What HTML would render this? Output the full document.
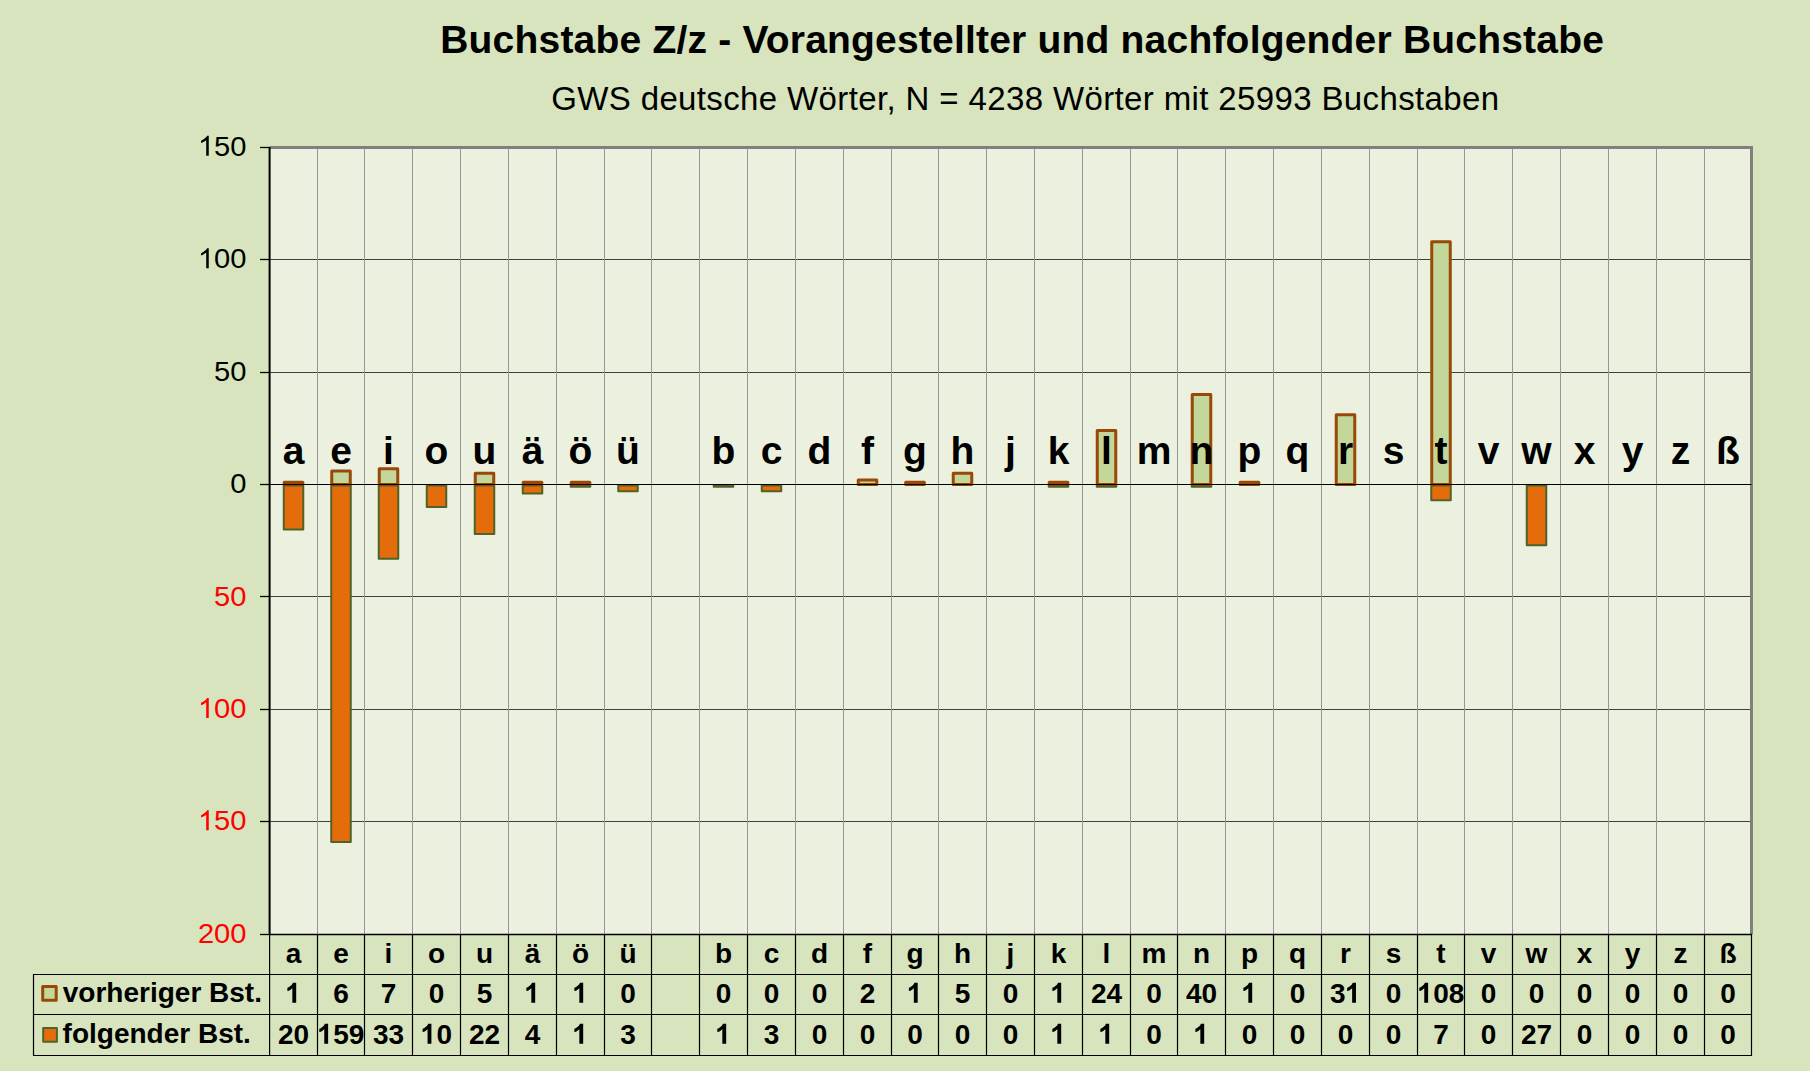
<!DOCTYPE html>
<html><head><meta charset="utf-8"><style>
html,body{margin:0;padding:0;}
body{width:1810px;height:1071px;overflow:hidden;position:relative;background:#D7E4BD;font-family:"Liberation Sans",sans-serif;}
svg text{font-family:"Liberation Sans",sans-serif;}
</style></head><body>
<svg width="1810" height="1071" viewBox="0 0 1810 1071" style="position:absolute;left:0;top:0">
<rect x="269.7" y="147.255" width="1481.8" height="786.905" fill="#EBF1DE"/>
<line x1="269.7" y1="259.5" x2="1751.5" y2="259.5" stroke="#404040" stroke-width="1"/>
<line x1="269.7" y1="372.5" x2="1751.5" y2="372.5" stroke="#404040" stroke-width="1"/>
<line x1="269.7" y1="596.5" x2="1751.5" y2="596.5" stroke="#404040" stroke-width="1"/>
<line x1="269.7" y1="709.5" x2="1751.5" y2="709.5" stroke="#404040" stroke-width="1"/>
<line x1="269.7" y1="821.5" x2="1751.5" y2="821.5" stroke="#404040" stroke-width="1"/>
<line x1="317.5" y1="147.255" x2="317.5" y2="934.16" stroke="#969696" stroke-width="1"/>
<line x1="364.5" y1="147.255" x2="364.5" y2="934.16" stroke="#969696" stroke-width="1"/>
<line x1="412.5" y1="147.255" x2="412.5" y2="934.16" stroke="#969696" stroke-width="1"/>
<line x1="460.5" y1="147.255" x2="460.5" y2="934.16" stroke="#969696" stroke-width="1"/>
<line x1="508.5" y1="147.255" x2="508.5" y2="934.16" stroke="#969696" stroke-width="1"/>
<line x1="556.5" y1="147.255" x2="556.5" y2="934.16" stroke="#969696" stroke-width="1"/>
<line x1="604.5" y1="147.255" x2="604.5" y2="934.16" stroke="#969696" stroke-width="1"/>
<line x1="651.5" y1="147.255" x2="651.5" y2="934.16" stroke="#969696" stroke-width="1"/>
<line x1="699.5" y1="147.255" x2="699.5" y2="934.16" stroke="#969696" stroke-width="1"/>
<line x1="747.5" y1="147.255" x2="747.5" y2="934.16" stroke="#969696" stroke-width="1"/>
<line x1="795.5" y1="147.255" x2="795.5" y2="934.16" stroke="#969696" stroke-width="1"/>
<line x1="843.5" y1="147.255" x2="843.5" y2="934.16" stroke="#969696" stroke-width="1"/>
<line x1="891.5" y1="147.255" x2="891.5" y2="934.16" stroke="#969696" stroke-width="1"/>
<line x1="938.5" y1="147.255" x2="938.5" y2="934.16" stroke="#969696" stroke-width="1"/>
<line x1="986.5" y1="147.255" x2="986.5" y2="934.16" stroke="#969696" stroke-width="1"/>
<line x1="1034.5" y1="147.255" x2="1034.5" y2="934.16" stroke="#969696" stroke-width="1"/>
<line x1="1082.5" y1="147.255" x2="1082.5" y2="934.16" stroke="#969696" stroke-width="1"/>
<line x1="1130.5" y1="147.255" x2="1130.5" y2="934.16" stroke="#969696" stroke-width="1"/>
<line x1="1177.5" y1="147.255" x2="1177.5" y2="934.16" stroke="#969696" stroke-width="1"/>
<line x1="1225.5" y1="147.255" x2="1225.5" y2="934.16" stroke="#969696" stroke-width="1"/>
<line x1="1273.5" y1="147.255" x2="1273.5" y2="934.16" stroke="#969696" stroke-width="1"/>
<line x1="1321.5" y1="147.255" x2="1321.5" y2="934.16" stroke="#969696" stroke-width="1"/>
<line x1="1369.5" y1="147.255" x2="1369.5" y2="934.16" stroke="#969696" stroke-width="1"/>
<line x1="1417.5" y1="147.255" x2="1417.5" y2="934.16" stroke="#969696" stroke-width="1"/>
<line x1="1464.5" y1="147.255" x2="1464.5" y2="934.16" stroke="#969696" stroke-width="1"/>
<line x1="1512.5" y1="147.255" x2="1512.5" y2="934.16" stroke="#969696" stroke-width="1"/>
<line x1="1560.5" y1="147.255" x2="1560.5" y2="934.16" stroke="#969696" stroke-width="1"/>
<line x1="1608.5" y1="147.255" x2="1608.5" y2="934.16" stroke="#969696" stroke-width="1"/>
<line x1="1656.5" y1="147.255" x2="1656.5" y2="934.16" stroke="#969696" stroke-width="1"/>
<line x1="1704.5" y1="147.255" x2="1704.5" y2="934.16" stroke="#969696" stroke-width="1"/>
<line x1="269.7" y1="147.5" x2="1752.5" y2="147.5" stroke="#808080" stroke-width="3" stroke-linejoin="round"/>
<line x1="1751.5" y1="146" x2="1751.5" y2="934.5" stroke="#808080" stroke-width="3" stroke-linejoin="round"/>
<rect x="283.75" y="485.50" width="19.5" height="43.97" fill="#E46C0A" stroke="#4F6228" stroke-width="2" stroke-linejoin="round"/>
<rect x="331.25" y="485.50" width="19.5" height="356.48" fill="#E46C0A" stroke="#4F6228" stroke-width="2" stroke-linejoin="round"/>
<rect x="378.75" y="485.50" width="19.5" height="73.19" fill="#E46C0A" stroke="#4F6228" stroke-width="2" stroke-linejoin="round"/>
<rect x="426.75" y="485.50" width="19.5" height="21.48" fill="#E46C0A" stroke="#4F6228" stroke-width="2" stroke-linejoin="round"/>
<rect x="474.75" y="485.50" width="19.5" height="48.46" fill="#E46C0A" stroke="#4F6228" stroke-width="2" stroke-linejoin="round"/>
<rect x="522.75" y="485.50" width="19.5" height="7.99" fill="#E46C0A" stroke="#4F6228" stroke-width="2" stroke-linejoin="round"/>
<rect x="570.75" y="485.50" width="19.5" height="1.25" fill="#E46C0A" stroke="#4F6228" stroke-width="2" stroke-linejoin="round"/>
<rect x="618.25" y="485.50" width="19.5" height="5.74" fill="#E46C0A" stroke="#4F6228" stroke-width="2" stroke-linejoin="round"/>
<rect x="713.75" y="485.50" width="19.5" height="1.25" fill="#E46C0A" stroke="#4F6228" stroke-width="2" stroke-linejoin="round"/>
<rect x="761.75" y="485.50" width="19.5" height="5.74" fill="#E46C0A" stroke="#4F6228" stroke-width="2" stroke-linejoin="round"/>
<rect x="1048.75" y="485.50" width="19.5" height="1.25" fill="#E46C0A" stroke="#4F6228" stroke-width="2" stroke-linejoin="round"/>
<rect x="1096.75" y="485.50" width="19.5" height="1.25" fill="#E46C0A" stroke="#4F6228" stroke-width="2" stroke-linejoin="round"/>
<rect x="1191.75" y="485.50" width="19.5" height="1.25" fill="#E46C0A" stroke="#4F6228" stroke-width="2" stroke-linejoin="round"/>
<rect x="1431.25" y="485.50" width="19.5" height="14.74" fill="#E46C0A" stroke="#4F6228" stroke-width="2" stroke-linejoin="round"/>
<rect x="1526.75" y="485.50" width="19.5" height="59.70" fill="#E46C0A" stroke="#4F6228" stroke-width="2" stroke-linejoin="round"/>
<rect x="284.25" y="482.25" width="18.5" height="2.25" fill="#C4D79B" stroke="#984807" stroke-width="3" stroke-linejoin="round"/>
<rect x="331.75" y="471.01" width="18.5" height="13.49" fill="#C4D79B" stroke="#984807" stroke-width="3" stroke-linejoin="round"/>
<rect x="379.25" y="468.76" width="18.5" height="15.74" fill="#C4D79B" stroke="#984807" stroke-width="3" stroke-linejoin="round"/>
<rect x="475.25" y="473.26" width="18.5" height="11.24" fill="#C4D79B" stroke="#984807" stroke-width="3" stroke-linejoin="round"/>
<rect x="523.25" y="482.25" width="18.5" height="2.25" fill="#C4D79B" stroke="#984807" stroke-width="3" stroke-linejoin="round"/>
<rect x="571.25" y="482.25" width="18.5" height="2.25" fill="#C4D79B" stroke="#984807" stroke-width="3" stroke-linejoin="round"/>
<rect x="858.25" y="480.00" width="18.5" height="4.50" fill="#C4D79B" stroke="#984807" stroke-width="3" stroke-linejoin="round"/>
<rect x="905.75" y="482.25" width="18.5" height="2.25" fill="#C4D79B" stroke="#984807" stroke-width="3" stroke-linejoin="round"/>
<rect x="953.25" y="473.26" width="18.5" height="11.24" fill="#C4D79B" stroke="#984807" stroke-width="3" stroke-linejoin="round"/>
<rect x="1049.25" y="482.25" width="18.5" height="2.25" fill="#C4D79B" stroke="#984807" stroke-width="3" stroke-linejoin="round"/>
<rect x="1097.25" y="430.54" width="18.5" height="53.96" fill="#C4D79B" stroke="#984807" stroke-width="3" stroke-linejoin="round"/>
<rect x="1192.25" y="394.57" width="18.5" height="89.93" fill="#C4D79B" stroke="#984807" stroke-width="3" stroke-linejoin="round"/>
<rect x="1240.25" y="482.25" width="18.5" height="2.25" fill="#C4D79B" stroke="#984807" stroke-width="3" stroke-linejoin="round"/>
<rect x="1336.25" y="414.80" width="18.5" height="69.70" fill="#C4D79B" stroke="#984807" stroke-width="3" stroke-linejoin="round"/>
<rect x="1431.75" y="241.68" width="18.5" height="242.82" fill="#C4D79B" stroke="#984807" stroke-width="3" stroke-linejoin="round"/>
<line x1="269.7" y1="484.5" x2="1751.5" y2="484.5" stroke="#000" stroke-width="1.2"/>
<line x1="269.6" y1="147" x2="269.6" y2="935" stroke="#000" stroke-width="2" stroke-linejoin="round"/>
<line x1="260" y1="147.5" x2="270" y2="147.5" stroke="#000" stroke-width="1.3"/>
<line x1="260" y1="259.5" x2="270" y2="259.5" stroke="#000" stroke-width="1.3"/>
<line x1="260" y1="372.5" x2="270" y2="372.5" stroke="#000" stroke-width="1.3"/>
<line x1="260" y1="484.5" x2="270" y2="484.5" stroke="#000" stroke-width="1.3"/>
<line x1="260" y1="596.5" x2="270" y2="596.5" stroke="#000" stroke-width="1.3"/>
<line x1="260" y1="709.5" x2="270" y2="709.5" stroke="#000" stroke-width="1.3"/>
<line x1="260" y1="821.5" x2="270" y2="821.5" stroke="#000" stroke-width="1.3"/>
<line x1="260" y1="934.5" x2="270" y2="934.5" stroke="#000" stroke-width="1.3"/>
<g transform="translate(246.5,0) scale(1.04,1) translate(-246.5,0)">
<text x="199.78" y="155.85" font-family="Liberation Sans" font-size="28" fill="#000" style="white-space:pre"> 50</text>
<path d="M763,0 L583,0 L583,1147 Q518,1085 415,1024.5 Q312,964 222,931 L222,1105 Q384,1181 495,1280 Q606,1379 651,1466 L763,1466 Z" transform="translate(199.78,155.85) scale(0.01367,-0.01367)" fill="#000"/>
</g>
<g transform="translate(246.5,0) scale(1.04,1) translate(-246.5,0)">
<text x="199.78" y="268.27" font-family="Liberation Sans" font-size="28" fill="#000" style="white-space:pre"> 00</text>
<path d="M763,0 L583,0 L583,1147 Q518,1085 415,1024.5 Q312,964 222,931 L222,1105 Q384,1181 495,1280 Q606,1379 651,1466 L763,1466 Z" transform="translate(199.78,268.27) scale(0.01367,-0.01367)" fill="#000"/>
</g>
<g transform="translate(246.5,0) scale(1.04,1) translate(-246.5,0)">
<text x="215.36" y="380.69" font-family="Liberation Sans" font-size="28" fill="#000" style="white-space:pre">50</text>
</g>
<g transform="translate(246.5,0) scale(1.04,1) translate(-246.5,0)">
<text x="230.93" y="493.10" font-family="Liberation Sans" font-size="28" fill="#000" style="white-space:pre">0</text>
</g>
<g transform="translate(246.5,0) scale(1.04,1) translate(-246.5,0)">
<text x="215.36" y="605.51" font-family="Liberation Sans" font-size="28" fill="#FF0000" style="white-space:pre">50</text>
</g>
<g transform="translate(246.5,0) scale(1.04,1) translate(-246.5,0)">
<text x="199.78" y="717.93" font-family="Liberation Sans" font-size="28" fill="#FF0000" style="white-space:pre"> 00</text>
<path d="M763,0 L583,0 L583,1147 Q518,1085 415,1024.5 Q312,964 222,931 L222,1105 Q384,1181 495,1280 Q606,1379 651,1466 L763,1466 Z" transform="translate(199.78,717.93) scale(0.01367,-0.01367)" fill="#FF0000"/>
</g>
<g transform="translate(246.5,0) scale(1.04,1) translate(-246.5,0)">
<text x="199.78" y="830.35" font-family="Liberation Sans" font-size="28" fill="#FF0000" style="white-space:pre"> 50</text>
<path d="M763,0 L583,0 L583,1147 Q518,1085 415,1024.5 Q312,964 222,931 L222,1105 Q384,1181 495,1280 Q606,1379 651,1466 L763,1466 Z" transform="translate(199.78,830.35) scale(0.01367,-0.01367)" fill="#FF0000"/>
</g>
<g transform="translate(246.5,0) scale(1.04,1) translate(-246.5,0)">
<text x="199.78" y="942.76" font-family="Liberation Sans" font-size="28" fill="#FF0000" style="white-space:pre">200</text>
</g>
<text x="293.50" y="464" text-anchor="middle" font-family="Liberation Sans" font-weight="bold" font-size="39">a</text>
<text x="341.00" y="464" text-anchor="middle" font-family="Liberation Sans" font-weight="bold" font-size="39">e</text>
<text x="388.50" y="464" text-anchor="middle" font-family="Liberation Sans" font-weight="bold" font-size="39">i</text>
<text x="436.50" y="464" text-anchor="middle" font-family="Liberation Sans" font-weight="bold" font-size="39">o</text>
<text x="484.50" y="464" text-anchor="middle" font-family="Liberation Sans" font-weight="bold" font-size="39">u</text>
<text x="532.50" y="464" text-anchor="middle" font-family="Liberation Sans" font-weight="bold" font-size="39">ä</text>
<text x="580.50" y="464" text-anchor="middle" font-family="Liberation Sans" font-weight="bold" font-size="39">ö</text>
<text x="628.00" y="464" text-anchor="middle" font-family="Liberation Sans" font-weight="bold" font-size="39">ü</text>
<text x="723.50" y="464" text-anchor="middle" font-family="Liberation Sans" font-weight="bold" font-size="39">b</text>
<text x="771.50" y="464" text-anchor="middle" font-family="Liberation Sans" font-weight="bold" font-size="39">c</text>
<text x="819.50" y="464" text-anchor="middle" font-family="Liberation Sans" font-weight="bold" font-size="39">d</text>
<text x="867.50" y="464" text-anchor="middle" font-family="Liberation Sans" font-weight="bold" font-size="39">f</text>
<text x="915.00" y="464" text-anchor="middle" font-family="Liberation Sans" font-weight="bold" font-size="39">g</text>
<text x="962.50" y="464" text-anchor="middle" font-family="Liberation Sans" font-weight="bold" font-size="39">h</text>
<text x="1010.50" y="464" text-anchor="middle" font-family="Liberation Sans" font-weight="bold" font-size="39">j</text>
<text x="1058.50" y="464" text-anchor="middle" font-family="Liberation Sans" font-weight="bold" font-size="39">k</text>
<text x="1106.50" y="464" text-anchor="middle" font-family="Liberation Sans" font-weight="bold" font-size="39">l</text>
<text x="1154.00" y="464" text-anchor="middle" font-family="Liberation Sans" font-weight="bold" font-size="39">m</text>
<text x="1201.50" y="464" text-anchor="middle" font-family="Liberation Sans" font-weight="bold" font-size="39">n</text>
<text x="1249.50" y="464" text-anchor="middle" font-family="Liberation Sans" font-weight="bold" font-size="39">p</text>
<text x="1297.50" y="464" text-anchor="middle" font-family="Liberation Sans" font-weight="bold" font-size="39">q</text>
<text x="1345.50" y="464" text-anchor="middle" font-family="Liberation Sans" font-weight="bold" font-size="39">r</text>
<text x="1393.50" y="464" text-anchor="middle" font-family="Liberation Sans" font-weight="bold" font-size="39">s</text>
<text x="1441.00" y="464" text-anchor="middle" font-family="Liberation Sans" font-weight="bold" font-size="39">t</text>
<text x="1488.50" y="464" text-anchor="middle" font-family="Liberation Sans" font-weight="bold" font-size="39">v</text>
<text x="1536.50" y="464" text-anchor="middle" font-family="Liberation Sans" font-weight="bold" font-size="39">w</text>
<text x="1584.50" y="464" text-anchor="middle" font-family="Liberation Sans" font-weight="bold" font-size="39">x</text>
<text x="1632.50" y="464" text-anchor="middle" font-family="Liberation Sans" font-weight="bold" font-size="39">y</text>
<text x="1680.50" y="464" text-anchor="middle" font-family="Liberation Sans" font-weight="bold" font-size="39">z</text>
<text x="1728.00" y="464" text-anchor="middle" font-family="Liberation Sans" font-weight="bold" font-size="39">ß</text>
<line x1="269.7" y1="934.5" x2="1752" y2="934.5" stroke="#000" stroke-width="1.6"/>
<line x1="33" y1="974.5" x2="1752" y2="974.5" stroke="#000" stroke-width="1.2"/>
<line x1="33" y1="1014.5" x2="1752" y2="1014.5" stroke="#000" stroke-width="1.2"/>
<line x1="33" y1="1055.5" x2="1752" y2="1055.5" stroke="#000" stroke-width="1.2"/>
<line x1="33.5" y1="974" x2="33.5" y2="1055.5" stroke="#000" stroke-width="1.2"/>
<line x1="269.60" y1="934" x2="269.60" y2="1055.5" stroke="#000" stroke-width="1.2"/>
<line x1="317.50" y1="934" x2="317.50" y2="1055.5" stroke="#000" stroke-width="1.2"/>
<line x1="364.50" y1="934" x2="364.50" y2="1055.5" stroke="#000" stroke-width="1.2"/>
<line x1="412.50" y1="934" x2="412.50" y2="1055.5" stroke="#000" stroke-width="1.2"/>
<line x1="460.50" y1="934" x2="460.50" y2="1055.5" stroke="#000" stroke-width="1.2"/>
<line x1="508.50" y1="934" x2="508.50" y2="1055.5" stroke="#000" stroke-width="1.2"/>
<line x1="556.50" y1="934" x2="556.50" y2="1055.5" stroke="#000" stroke-width="1.2"/>
<line x1="604.50" y1="934" x2="604.50" y2="1055.5" stroke="#000" stroke-width="1.2"/>
<line x1="651.50" y1="934" x2="651.50" y2="1055.5" stroke="#000" stroke-width="1.2"/>
<line x1="699.50" y1="934" x2="699.50" y2="1055.5" stroke="#000" stroke-width="1.2"/>
<line x1="747.50" y1="934" x2="747.50" y2="1055.5" stroke="#000" stroke-width="1.2"/>
<line x1="795.50" y1="934" x2="795.50" y2="1055.5" stroke="#000" stroke-width="1.2"/>
<line x1="843.50" y1="934" x2="843.50" y2="1055.5" stroke="#000" stroke-width="1.2"/>
<line x1="891.50" y1="934" x2="891.50" y2="1055.5" stroke="#000" stroke-width="1.2"/>
<line x1="938.50" y1="934" x2="938.50" y2="1055.5" stroke="#000" stroke-width="1.2"/>
<line x1="986.50" y1="934" x2="986.50" y2="1055.5" stroke="#000" stroke-width="1.2"/>
<line x1="1034.50" y1="934" x2="1034.50" y2="1055.5" stroke="#000" stroke-width="1.2"/>
<line x1="1082.50" y1="934" x2="1082.50" y2="1055.5" stroke="#000" stroke-width="1.2"/>
<line x1="1130.50" y1="934" x2="1130.50" y2="1055.5" stroke="#000" stroke-width="1.2"/>
<line x1="1177.50" y1="934" x2="1177.50" y2="1055.5" stroke="#000" stroke-width="1.2"/>
<line x1="1225.50" y1="934" x2="1225.50" y2="1055.5" stroke="#000" stroke-width="1.2"/>
<line x1="1273.50" y1="934" x2="1273.50" y2="1055.5" stroke="#000" stroke-width="1.2"/>
<line x1="1321.50" y1="934" x2="1321.50" y2="1055.5" stroke="#000" stroke-width="1.2"/>
<line x1="1369.50" y1="934" x2="1369.50" y2="1055.5" stroke="#000" stroke-width="1.2"/>
<line x1="1417.50" y1="934" x2="1417.50" y2="1055.5" stroke="#000" stroke-width="1.2"/>
<line x1="1464.50" y1="934" x2="1464.50" y2="1055.5" stroke="#000" stroke-width="1.2"/>
<line x1="1512.50" y1="934" x2="1512.50" y2="1055.5" stroke="#000" stroke-width="1.2"/>
<line x1="1560.50" y1="934" x2="1560.50" y2="1055.5" stroke="#000" stroke-width="1.2"/>
<line x1="1608.50" y1="934" x2="1608.50" y2="1055.5" stroke="#000" stroke-width="1.2"/>
<line x1="1656.50" y1="934" x2="1656.50" y2="1055.5" stroke="#000" stroke-width="1.2"/>
<line x1="1704.50" y1="934" x2="1704.50" y2="1055.5" stroke="#000" stroke-width="1.2"/>
<line x1="1751.50" y1="934" x2="1751.50" y2="1055.5" stroke="#000" stroke-width="1.2"/>
<text x="293.50" y="962.6" text-anchor="middle" font-family="Liberation Sans" font-weight="bold" font-size="28">a</text>
<path d="M766,0 L485,0 L485,1059 Q410,990 331,945 Q230,890 122,859 L122,1101 Q232,1137 296.5,1187.5 Q361,1238 418,1282 Q475,1326 532,1466 L766,1466 Z" transform="translate(285.71,1002.80) scale(0.01367,-0.01367)" fill="#000"/>
<text x="277.93" y="1043.80" font-family="Liberation Sans" font-size="28" font-weight="bold" fill="#000" style="white-space:pre">20</text>
<text x="341.00" y="962.6" text-anchor="middle" font-family="Liberation Sans" font-weight="bold" font-size="28">e</text>
<text x="333.21" y="1002.80" font-family="Liberation Sans" font-size="28" font-weight="bold" fill="#000" style="white-space:pre">6</text>
<text x="317.64" y="1043.80" font-family="Liberation Sans" font-size="28" font-weight="bold" fill="#000" style="white-space:pre"> 59</text>
<path d="M766,0 L485,0 L485,1059 Q410,990 331,945 Q230,890 122,859 L122,1101 Q232,1137 296.5,1187.5 Q361,1238 418,1282 Q475,1326 532,1466 L766,1466 Z" transform="translate(317.64,1043.80) scale(0.01367,-0.01367)" fill="#000"/>
<text x="388.50" y="962.6" text-anchor="middle" font-family="Liberation Sans" font-weight="bold" font-size="28">i</text>
<text x="380.71" y="1002.80" font-family="Liberation Sans" font-size="28" font-weight="bold" fill="#000" style="white-space:pre">7</text>
<text x="372.93" y="1043.80" font-family="Liberation Sans" font-size="28" font-weight="bold" fill="#000" style="white-space:pre">33</text>
<text x="436.50" y="962.6" text-anchor="middle" font-family="Liberation Sans" font-weight="bold" font-size="28">o</text>
<text x="428.71" y="1002.80" font-family="Liberation Sans" font-size="28" font-weight="bold" fill="#000" style="white-space:pre">0</text>
<text x="420.93" y="1043.80" font-family="Liberation Sans" font-size="28" font-weight="bold" fill="#000" style="white-space:pre"> 0</text>
<path d="M766,0 L485,0 L485,1059 Q410,990 331,945 Q230,890 122,859 L122,1101 Q232,1137 296.5,1187.5 Q361,1238 418,1282 Q475,1326 532,1466 L766,1466 Z" transform="translate(420.93,1043.80) scale(0.01367,-0.01367)" fill="#000"/>
<text x="484.50" y="962.6" text-anchor="middle" font-family="Liberation Sans" font-weight="bold" font-size="28">u</text>
<text x="476.71" y="1002.80" font-family="Liberation Sans" font-size="28" font-weight="bold" fill="#000" style="white-space:pre">5</text>
<text x="468.93" y="1043.80" font-family="Liberation Sans" font-size="28" font-weight="bold" fill="#000" style="white-space:pre">22</text>
<text x="532.50" y="962.6" text-anchor="middle" font-family="Liberation Sans" font-weight="bold" font-size="28">ä</text>
<path d="M766,0 L485,0 L485,1059 Q410,990 331,945 Q230,890 122,859 L122,1101 Q232,1137 296.5,1187.5 Q361,1238 418,1282 Q475,1326 532,1466 L766,1466 Z" transform="translate(524.71,1002.80) scale(0.01367,-0.01367)" fill="#000"/>
<text x="524.71" y="1043.80" font-family="Liberation Sans" font-size="28" font-weight="bold" fill="#000" style="white-space:pre">4</text>
<text x="580.50" y="962.6" text-anchor="middle" font-family="Liberation Sans" font-weight="bold" font-size="28">ö</text>
<path d="M766,0 L485,0 L485,1059 Q410,990 331,945 Q230,890 122,859 L122,1101 Q232,1137 296.5,1187.5 Q361,1238 418,1282 Q475,1326 532,1466 L766,1466 Z" transform="translate(572.71,1002.80) scale(0.01367,-0.01367)" fill="#000"/>
<path d="M766,0 L485,0 L485,1059 Q410,990 331,945 Q230,890 122,859 L122,1101 Q232,1137 296.5,1187.5 Q361,1238 418,1282 Q475,1326 532,1466 L766,1466 Z" transform="translate(572.71,1043.80) scale(0.01367,-0.01367)" fill="#000"/>
<text x="628.00" y="962.6" text-anchor="middle" font-family="Liberation Sans" font-weight="bold" font-size="28">ü</text>
<text x="620.21" y="1002.80" font-family="Liberation Sans" font-size="28" font-weight="bold" fill="#000" style="white-space:pre">0</text>
<text x="620.21" y="1043.80" font-family="Liberation Sans" font-size="28" font-weight="bold" fill="#000" style="white-space:pre">3</text>
<text x="723.50" y="962.6" text-anchor="middle" font-family="Liberation Sans" font-weight="bold" font-size="28">b</text>
<text x="715.71" y="1002.80" font-family="Liberation Sans" font-size="28" font-weight="bold" fill="#000" style="white-space:pre">0</text>
<path d="M766,0 L485,0 L485,1059 Q410,990 331,945 Q230,890 122,859 L122,1101 Q232,1137 296.5,1187.5 Q361,1238 418,1282 Q475,1326 532,1466 L766,1466 Z" transform="translate(715.71,1043.80) scale(0.01367,-0.01367)" fill="#000"/>
<text x="771.50" y="962.6" text-anchor="middle" font-family="Liberation Sans" font-weight="bold" font-size="28">c</text>
<text x="763.71" y="1002.80" font-family="Liberation Sans" font-size="28" font-weight="bold" fill="#000" style="white-space:pre">0</text>
<text x="763.71" y="1043.80" font-family="Liberation Sans" font-size="28" font-weight="bold" fill="#000" style="white-space:pre">3</text>
<text x="819.50" y="962.6" text-anchor="middle" font-family="Liberation Sans" font-weight="bold" font-size="28">d</text>
<text x="811.71" y="1002.80" font-family="Liberation Sans" font-size="28" font-weight="bold" fill="#000" style="white-space:pre">0</text>
<text x="811.71" y="1043.80" font-family="Liberation Sans" font-size="28" font-weight="bold" fill="#000" style="white-space:pre">0</text>
<text x="867.50" y="962.6" text-anchor="middle" font-family="Liberation Sans" font-weight="bold" font-size="28">f</text>
<text x="859.71" y="1002.80" font-family="Liberation Sans" font-size="28" font-weight="bold" fill="#000" style="white-space:pre">2</text>
<text x="859.71" y="1043.80" font-family="Liberation Sans" font-size="28" font-weight="bold" fill="#000" style="white-space:pre">0</text>
<text x="915.00" y="962.6" text-anchor="middle" font-family="Liberation Sans" font-weight="bold" font-size="28">g</text>
<path d="M766,0 L485,0 L485,1059 Q410,990 331,945 Q230,890 122,859 L122,1101 Q232,1137 296.5,1187.5 Q361,1238 418,1282 Q475,1326 532,1466 L766,1466 Z" transform="translate(907.21,1002.80) scale(0.01367,-0.01367)" fill="#000"/>
<text x="907.21" y="1043.80" font-family="Liberation Sans" font-size="28" font-weight="bold" fill="#000" style="white-space:pre">0</text>
<text x="962.50" y="962.6" text-anchor="middle" font-family="Liberation Sans" font-weight="bold" font-size="28">h</text>
<text x="954.71" y="1002.80" font-family="Liberation Sans" font-size="28" font-weight="bold" fill="#000" style="white-space:pre">5</text>
<text x="954.71" y="1043.80" font-family="Liberation Sans" font-size="28" font-weight="bold" fill="#000" style="white-space:pre">0</text>
<text x="1010.50" y="962.6" text-anchor="middle" font-family="Liberation Sans" font-weight="bold" font-size="28">j</text>
<text x="1002.71" y="1002.80" font-family="Liberation Sans" font-size="28" font-weight="bold" fill="#000" style="white-space:pre">0</text>
<text x="1002.71" y="1043.80" font-family="Liberation Sans" font-size="28" font-weight="bold" fill="#000" style="white-space:pre">0</text>
<text x="1058.50" y="962.6" text-anchor="middle" font-family="Liberation Sans" font-weight="bold" font-size="28">k</text>
<path d="M766,0 L485,0 L485,1059 Q410,990 331,945 Q230,890 122,859 L122,1101 Q232,1137 296.5,1187.5 Q361,1238 418,1282 Q475,1326 532,1466 L766,1466 Z" transform="translate(1050.71,1002.80) scale(0.01367,-0.01367)" fill="#000"/>
<path d="M766,0 L485,0 L485,1059 Q410,990 331,945 Q230,890 122,859 L122,1101 Q232,1137 296.5,1187.5 Q361,1238 418,1282 Q475,1326 532,1466 L766,1466 Z" transform="translate(1050.71,1043.80) scale(0.01367,-0.01367)" fill="#000"/>
<text x="1106.50" y="962.6" text-anchor="middle" font-family="Liberation Sans" font-weight="bold" font-size="28">l</text>
<text x="1090.93" y="1002.80" font-family="Liberation Sans" font-size="28" font-weight="bold" fill="#000" style="white-space:pre">24</text>
<path d="M766,0 L485,0 L485,1059 Q410,990 331,945 Q230,890 122,859 L122,1101 Q232,1137 296.5,1187.5 Q361,1238 418,1282 Q475,1326 532,1466 L766,1466 Z" transform="translate(1098.71,1043.80) scale(0.01367,-0.01367)" fill="#000"/>
<text x="1154.00" y="962.6" text-anchor="middle" font-family="Liberation Sans" font-weight="bold" font-size="28">m</text>
<text x="1146.21" y="1002.80" font-family="Liberation Sans" font-size="28" font-weight="bold" fill="#000" style="white-space:pre">0</text>
<text x="1146.21" y="1043.80" font-family="Liberation Sans" font-size="28" font-weight="bold" fill="#000" style="white-space:pre">0</text>
<text x="1201.50" y="962.6" text-anchor="middle" font-family="Liberation Sans" font-weight="bold" font-size="28">n</text>
<text x="1185.93" y="1002.80" font-family="Liberation Sans" font-size="28" font-weight="bold" fill="#000" style="white-space:pre">40</text>
<path d="M766,0 L485,0 L485,1059 Q410,990 331,945 Q230,890 122,859 L122,1101 Q232,1137 296.5,1187.5 Q361,1238 418,1282 Q475,1326 532,1466 L766,1466 Z" transform="translate(1193.71,1043.80) scale(0.01367,-0.01367)" fill="#000"/>
<text x="1249.50" y="962.6" text-anchor="middle" font-family="Liberation Sans" font-weight="bold" font-size="28">p</text>
<path d="M766,0 L485,0 L485,1059 Q410,990 331,945 Q230,890 122,859 L122,1101 Q232,1137 296.5,1187.5 Q361,1238 418,1282 Q475,1326 532,1466 L766,1466 Z" transform="translate(1241.71,1002.80) scale(0.01367,-0.01367)" fill="#000"/>
<text x="1241.71" y="1043.80" font-family="Liberation Sans" font-size="28" font-weight="bold" fill="#000" style="white-space:pre">0</text>
<text x="1297.50" y="962.6" text-anchor="middle" font-family="Liberation Sans" font-weight="bold" font-size="28">q</text>
<text x="1289.71" y="1002.80" font-family="Liberation Sans" font-size="28" font-weight="bold" fill="#000" style="white-space:pre">0</text>
<text x="1289.71" y="1043.80" font-family="Liberation Sans" font-size="28" font-weight="bold" fill="#000" style="white-space:pre">0</text>
<text x="1345.50" y="962.6" text-anchor="middle" font-family="Liberation Sans" font-weight="bold" font-size="28">r</text>
<text x="1329.93" y="1002.80" font-family="Liberation Sans" font-size="28" font-weight="bold" fill="#000" style="white-space:pre">3 </text>
<path d="M766,0 L485,0 L485,1059 Q410,990 331,945 Q230,890 122,859 L122,1101 Q232,1137 296.5,1187.5 Q361,1238 418,1282 Q475,1326 532,1466 L766,1466 Z" transform="translate(1345.50,1002.80) scale(0.01367,-0.01367)" fill="#000"/>
<text x="1337.71" y="1043.80" font-family="Liberation Sans" font-size="28" font-weight="bold" fill="#000" style="white-space:pre">0</text>
<text x="1393.50" y="962.6" text-anchor="middle" font-family="Liberation Sans" font-weight="bold" font-size="28">s</text>
<text x="1385.71" y="1002.80" font-family="Liberation Sans" font-size="28" font-weight="bold" fill="#000" style="white-space:pre">0</text>
<text x="1385.71" y="1043.80" font-family="Liberation Sans" font-size="28" font-weight="bold" fill="#000" style="white-space:pre">0</text>
<text x="1441.00" y="962.6" text-anchor="middle" font-family="Liberation Sans" font-weight="bold" font-size="28">t</text>
<text x="1417.64" y="1002.80" font-family="Liberation Sans" font-size="28" font-weight="bold" fill="#000" style="white-space:pre"> 08</text>
<path d="M766,0 L485,0 L485,1059 Q410,990 331,945 Q230,890 122,859 L122,1101 Q232,1137 296.5,1187.5 Q361,1238 418,1282 Q475,1326 532,1466 L766,1466 Z" transform="translate(1417.64,1002.80) scale(0.01367,-0.01367)" fill="#000"/>
<text x="1433.21" y="1043.80" font-family="Liberation Sans" font-size="28" font-weight="bold" fill="#000" style="white-space:pre">7</text>
<text x="1488.50" y="962.6" text-anchor="middle" font-family="Liberation Sans" font-weight="bold" font-size="28">v</text>
<text x="1480.71" y="1002.80" font-family="Liberation Sans" font-size="28" font-weight="bold" fill="#000" style="white-space:pre">0</text>
<text x="1480.71" y="1043.80" font-family="Liberation Sans" font-size="28" font-weight="bold" fill="#000" style="white-space:pre">0</text>
<text x="1536.50" y="962.6" text-anchor="middle" font-family="Liberation Sans" font-weight="bold" font-size="28">w</text>
<text x="1528.71" y="1002.80" font-family="Liberation Sans" font-size="28" font-weight="bold" fill="#000" style="white-space:pre">0</text>
<text x="1520.93" y="1043.80" font-family="Liberation Sans" font-size="28" font-weight="bold" fill="#000" style="white-space:pre">27</text>
<text x="1584.50" y="962.6" text-anchor="middle" font-family="Liberation Sans" font-weight="bold" font-size="28">x</text>
<text x="1576.71" y="1002.80" font-family="Liberation Sans" font-size="28" font-weight="bold" fill="#000" style="white-space:pre">0</text>
<text x="1576.71" y="1043.80" font-family="Liberation Sans" font-size="28" font-weight="bold" fill="#000" style="white-space:pre">0</text>
<text x="1632.50" y="962.6" text-anchor="middle" font-family="Liberation Sans" font-weight="bold" font-size="28">y</text>
<text x="1624.71" y="1002.80" font-family="Liberation Sans" font-size="28" font-weight="bold" fill="#000" style="white-space:pre">0</text>
<text x="1624.71" y="1043.80" font-family="Liberation Sans" font-size="28" font-weight="bold" fill="#000" style="white-space:pre">0</text>
<text x="1680.50" y="962.6" text-anchor="middle" font-family="Liberation Sans" font-weight="bold" font-size="28">z</text>
<text x="1672.71" y="1002.80" font-family="Liberation Sans" font-size="28" font-weight="bold" fill="#000" style="white-space:pre">0</text>
<text x="1672.71" y="1043.80" font-family="Liberation Sans" font-size="28" font-weight="bold" fill="#000" style="white-space:pre">0</text>
<text x="1728.00" y="962.6" text-anchor="middle" font-family="Liberation Sans" font-weight="bold" font-size="28">ß</text>
<text x="1720.21" y="1002.80" font-family="Liberation Sans" font-size="28" font-weight="bold" fill="#000" style="white-space:pre">0</text>
<text x="1720.21" y="1043.80" font-family="Liberation Sans" font-size="28" font-weight="bold" fill="#000" style="white-space:pre">0</text>
<rect x="42.7" y="986.6" width="13.5" height="13.7" fill="#C4D79B" stroke="#984807" stroke-width="3" stroke-linejoin="round"/>
<rect x="43.2" y="1028.1" width="13.7" height="13.6" fill="#E46C0A" stroke="#4F6228" stroke-width="2" stroke-linejoin="round"/>
<text x="62.8" y="1002" font-family="Liberation Sans" font-weight="bold" font-size="28">vorheriger Bst.</text>
<text x="62.6" y="1043.3" font-family="Liberation Sans" font-weight="bold" font-size="28">folgender Bst.</text>
<text x="440.2" y="52.5" font-family="Liberation Sans" font-weight="bold" font-size="39" letter-spacing="0.2">Buchstabe Z/z - Vorangestellter und nachfolgender Buchstabe</text>
<text x="551.2" y="109.6" font-family="Liberation Sans" font-size="33" letter-spacing="0.37">GWS deutsche Wörter, N = 4238 Wörter mit 25993 Buchstaben</text>
</svg>
</body></html>
